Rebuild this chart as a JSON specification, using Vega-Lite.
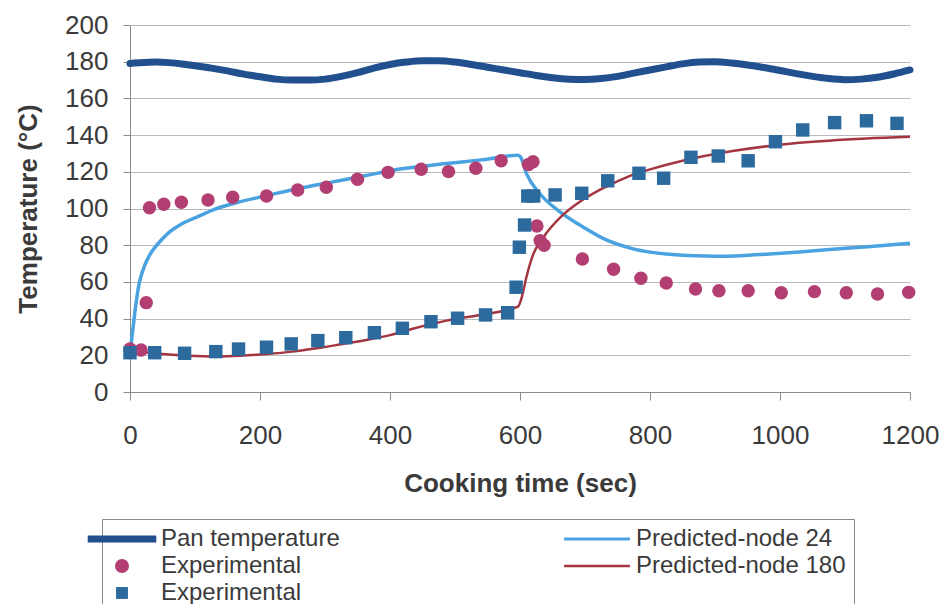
{
  "$schema": "https://vega.github.io/schema/vega-lite/v6.json",
  "autosize": {"type": "none"},
  "width": 780,
  "height": 367,
  "padding": {"left": 130, "top": 25, "right": 36, "bottom": 212},
  "background": "white",
  "config": {
    "font": "Liberation Sans",
    "view": {"stroke": null}
  },
  "data": {
    "values": [
      {"series": "Pan temperature", "t": 0, "T": 179},
      {"series": "Pan temperature", "t": 20, "T": 179.5},
      {"series": "Pan temperature", "t": 40, "T": 179.8},
      {"series": "Pan temperature", "t": 60, "T": 179.5},
      {"series": "Pan temperature", "t": 80, "T": 178.8},
      {"series": "Pan temperature", "t": 100, "T": 177.8},
      {"series": "Pan temperature", "t": 125, "T": 176.5},
      {"series": "Pan temperature", "t": 150, "T": 175},
      {"series": "Pan temperature", "t": 175, "T": 173.2},
      {"series": "Pan temperature", "t": 200, "T": 171.8},
      {"series": "Pan temperature", "t": 225, "T": 170.5},
      {"series": "Pan temperature", "t": 250, "T": 170},
      {"series": "Pan temperature", "t": 275, "T": 170},
      {"series": "Pan temperature", "t": 300, "T": 170.5},
      {"series": "Pan temperature", "t": 325, "T": 172},
      {"series": "Pan temperature", "t": 350, "T": 174},
      {"series": "Pan temperature", "t": 375, "T": 176.5},
      {"series": "Pan temperature", "t": 400, "T": 178.5},
      {"series": "Pan temperature", "t": 425, "T": 179.8},
      {"series": "Pan temperature", "t": 450, "T": 180.5},
      {"series": "Pan temperature", "t": 475, "T": 180.5},
      {"series": "Pan temperature", "t": 500, "T": 179.8},
      {"series": "Pan temperature", "t": 525, "T": 178.5},
      {"series": "Pan temperature", "t": 550, "T": 177},
      {"series": "Pan temperature", "t": 575, "T": 175.5},
      {"series": "Pan temperature", "t": 600, "T": 174},
      {"series": "Pan temperature", "t": 625, "T": 172.5},
      {"series": "Pan temperature", "t": 650, "T": 171.3},
      {"series": "Pan temperature", "t": 675, "T": 170.5},
      {"series": "Pan temperature", "t": 700, "T": 170.3},
      {"series": "Pan temperature", "t": 725, "T": 170.8},
      {"series": "Pan temperature", "t": 750, "T": 172},
      {"series": "Pan temperature", "t": 775, "T": 173.8},
      {"series": "Pan temperature", "t": 800, "T": 175.5},
      {"series": "Pan temperature", "t": 825, "T": 177.2},
      {"series": "Pan temperature", "t": 850, "T": 178.8},
      {"series": "Pan temperature", "t": 875, "T": 179.8},
      {"series": "Pan temperature", "t": 900, "T": 180},
      {"series": "Pan temperature", "t": 925, "T": 179.3},
      {"series": "Pan temperature", "t": 950, "T": 178.2},
      {"series": "Pan temperature", "t": 975, "T": 176.8},
      {"series": "Pan temperature", "t": 1000, "T": 175.2},
      {"series": "Pan temperature", "t": 1025, "T": 173.5},
      {"series": "Pan temperature", "t": 1050, "T": 172},
      {"series": "Pan temperature", "t": 1075, "T": 170.8},
      {"series": "Pan temperature", "t": 1100, "T": 170.2},
      {"series": "Pan temperature", "t": 1125, "T": 170.5},
      {"series": "Pan temperature", "t": 1150, "T": 171.5},
      {"series": "Pan temperature", "t": 1175, "T": 173.3},
      {"series": "Pan temperature", "t": 1200, "T": 175.5},

      {"series": "Predicted-node 24", "t": 0, "T": 22},
      {"series": "Predicted-node 24", "t": 2, "T": 27},
      {"series": "Predicted-node 24", "t": 4, "T": 33},
      {"series": "Predicted-node 24", "t": 6, "T": 39},
      {"series": "Predicted-node 24", "t": 8, "T": 45},
      {"series": "Predicted-node 24", "t": 10, "T": 50},
      {"series": "Predicted-node 24", "t": 12, "T": 55},
      {"series": "Predicted-node 24", "t": 15, "T": 60.5},
      {"series": "Predicted-node 24", "t": 20, "T": 66.5},
      {"series": "Predicted-node 24", "t": 25, "T": 71},
      {"series": "Predicted-node 24", "t": 30, "T": 74.5},
      {"series": "Predicted-node 24", "t": 40, "T": 79.5},
      {"series": "Predicted-node 24", "t": 50, "T": 83.5},
      {"series": "Predicted-node 24", "t": 60, "T": 87},
      {"series": "Predicted-node 24", "t": 80, "T": 91.7},
      {"series": "Predicted-node 24", "t": 107, "T": 96},
      {"series": "Predicted-node 24", "t": 130, "T": 99.5},
      {"series": "Predicted-node 24", "t": 158, "T": 102.6},
      {"series": "Predicted-node 24", "t": 210, "T": 107},
      {"series": "Predicted-node 24", "t": 261, "T": 111},
      {"series": "Predicted-node 24", "t": 312, "T": 114.5},
      {"series": "Predicted-node 24", "t": 363, "T": 118},
      {"series": "Predicted-node 24", "t": 415, "T": 121.5},
      {"series": "Predicted-node 24", "t": 487, "T": 124.5},
      {"series": "Predicted-node 24", "t": 540, "T": 126.5},
      {"series": "Predicted-node 24", "t": 597, "T": 129},
      {"series": "Predicted-node 24", "t": 601, "T": 128},
      {"series": "Predicted-node 24", "t": 610, "T": 119},
      {"series": "Predicted-node 24", "t": 630, "T": 108.3},
      {"series": "Predicted-node 24", "t": 661, "T": 98.3},
      {"series": "Predicted-node 24", "t": 692, "T": 91},
      {"series": "Predicted-node 24", "t": 732, "T": 83},
      {"series": "Predicted-node 24", "t": 774, "T": 78},
      {"series": "Predicted-node 24", "t": 825, "T": 75.2},
      {"series": "Predicted-node 24", "t": 870, "T": 74.2},
      {"series": "Predicted-node 24", "t": 902, "T": 74},
      {"series": "Predicted-node 24", "t": 940, "T": 74.3},
      {"series": "Predicted-node 24", "t": 979, "T": 75.1},
      {"series": "Predicted-node 24", "t": 1030, "T": 76.3},
      {"series": "Predicted-node 24", "t": 1081, "T": 77.8},
      {"series": "Predicted-node 24", "t": 1140, "T": 79.3},
      {"series": "Predicted-node 24", "t": 1200, "T": 81},

      {"series": "Predicted-node 180", "t": 0, "T": 22.5},
      {"series": "Predicted-node 180", "t": 40, "T": 21},
      {"series": "Predicted-node 180", "t": 90, "T": 19.8},
      {"series": "Predicted-node 180", "t": 133, "T": 19.4},
      {"series": "Predicted-node 180", "t": 170, "T": 19.8},
      {"series": "Predicted-node 180", "t": 210, "T": 20.7},
      {"series": "Predicted-node 180", "t": 250, "T": 22},
      {"series": "Predicted-node 180", "t": 287, "T": 23.8},
      {"series": "Predicted-node 180", "t": 325, "T": 26},
      {"series": "Predicted-node 180", "t": 363, "T": 28.3},
      {"series": "Predicted-node 180", "t": 400, "T": 31},
      {"series": "Predicted-node 180", "t": 435, "T": 34.5},
      {"series": "Predicted-node 180", "t": 487, "T": 38.9},
      {"series": "Predicted-node 180", "t": 538, "T": 42},
      {"series": "Predicted-node 180", "t": 597, "T": 46.5},
      {"series": "Predicted-node 180", "t": 603, "T": 52},
      {"series": "Predicted-node 180", "t": 610, "T": 62.8},
      {"series": "Predicted-node 180", "t": 620, "T": 74.7},
      {"series": "Predicted-node 180", "t": 635, "T": 83.8},
      {"series": "Predicted-node 180", "t": 666, "T": 96.5},
      {"series": "Predicted-node 180", "t": 692, "T": 103.7},
      {"series": "Predicted-node 180", "t": 722, "T": 110},
      {"series": "Predicted-node 180", "t": 743, "T": 113.7},
      {"series": "Predicted-node 180", "t": 774, "T": 118.5},
      {"series": "Predicted-node 180", "t": 800, "T": 121.3},
      {"series": "Predicted-node 180", "t": 850, "T": 126},
      {"series": "Predicted-node 180", "t": 927, "T": 131.3},
      {"series": "Predicted-node 180", "t": 1030, "T": 135.8},
      {"series": "Predicted-node 180", "t": 1133, "T": 138.2},
      {"series": "Predicted-node 180", "t": 1200, "T": 139.1},

      {"series": "Experimental (node 24)", "t": 0, "T": 23.4},
      {"series": "Experimental (node 24)", "t": 17, "T": 22.9},
      {"series": "Experimental (node 24)", "t": 25, "T": 48.7},
      {"series": "Experimental (node 24)", "t": 30, "T": 100.4},
      {"series": "Experimental (node 24)", "t": 52, "T": 102.3},
      {"series": "Experimental (node 24)", "t": 79, "T": 103.4},
      {"series": "Experimental (node 24)", "t": 120, "T": 104.6},
      {"series": "Experimental (node 24)", "t": 158, "T": 106.1},
      {"series": "Experimental (node 24)", "t": 210, "T": 106.8},
      {"series": "Experimental (node 24)", "t": 258, "T": 110.1},
      {"series": "Experimental (node 24)", "t": 302, "T": 111.6},
      {"series": "Experimental (node 24)", "t": 350, "T": 115.9},
      {"series": "Experimental (node 24)", "t": 397, "T": 119.7},
      {"series": "Experimental (node 24)", "t": 448, "T": 121.4},
      {"series": "Experimental (node 24)", "t": 490, "T": 120.1},
      {"series": "Experimental (node 24)", "t": 532, "T": 121.9},
      {"series": "Experimental (node 24)", "t": 571, "T": 126},
      {"series": "Experimental (node 24)", "t": 613, "T": 124},
      {"series": "Experimental (node 24)", "t": 620, "T": 125.5},
      {"series": "Experimental (node 24)", "t": 626, "T": 90.5},
      {"series": "Experimental (node 24)", "t": 631, "T": 82.5},
      {"series": "Experimental (node 24)", "t": 637, "T": 80},
      {"series": "Experimental (node 24)", "t": 696, "T": 72.5},
      {"series": "Experimental (node 24)", "t": 744, "T": 66.9},
      {"series": "Experimental (node 24)", "t": 786, "T": 62},
      {"series": "Experimental (node 24)", "t": 825, "T": 59.4},
      {"series": "Experimental (node 24)", "t": 870, "T": 56.1},
      {"series": "Experimental (node 24)", "t": 906, "T": 55.2},
      {"series": "Experimental (node 24)", "t": 951, "T": 55.2},
      {"series": "Experimental (node 24)", "t": 1002, "T": 54.1},
      {"series": "Experimental (node 24)", "t": 1053, "T": 54.7},
      {"series": "Experimental (node 24)", "t": 1102, "T": 54.1},
      {"series": "Experimental (node 24)", "t": 1150, "T": 53.4},
      {"series": "Experimental (node 24)", "t": 1198, "T": 54.3},

      {"series": "Experimental (node 180)", "t": 0, "T": 21.4},
      {"series": "Experimental (node 180)", "t": 38, "T": 21.4},
      {"series": "Experimental (node 180)", "t": 84, "T": 21.1},
      {"series": "Experimental (node 180)", "t": 132, "T": 22},
      {"series": "Experimental (node 180)", "t": 167, "T": 23.4},
      {"series": "Experimental (node 180)", "t": 210, "T": 24.4},
      {"series": "Experimental (node 180)", "t": 248, "T": 26.2},
      {"series": "Experimental (node 180)", "t": 289, "T": 28},
      {"series": "Experimental (node 180)", "t": 332, "T": 29.6},
      {"series": "Experimental (node 180)", "t": 376, "T": 32.3},
      {"series": "Experimental (node 180)", "t": 419, "T": 34.7},
      {"series": "Experimental (node 180)", "t": 463, "T": 38.3},
      {"series": "Experimental (node 180)", "t": 504, "T": 40.2},
      {"series": "Experimental (node 180)", "t": 547, "T": 42},
      {"series": "Experimental (node 180)", "t": 581, "T": 43.2},
      {"series": "Experimental (node 180)", "t": 594, "T": 57.1},
      {"series": "Experimental (node 180)", "t": 599, "T": 78.9},
      {"series": "Experimental (node 180)", "t": 607, "T": 91},
      {"series": "Experimental (node 180)", "t": 612, "T": 106.8},
      {"series": "Experimental (node 180)", "t": 621, "T": 106.8},
      {"series": "Experimental (node 180)", "t": 654, "T": 107.4},
      {"series": "Experimental (node 180)", "t": 695, "T": 108.3},
      {"series": "Experimental (node 180)", "t": 735, "T": 115.1},
      {"series": "Experimental (node 180)", "t": 783, "T": 119.2},
      {"series": "Experimental (node 180)", "t": 821, "T": 116.5},
      {"series": "Experimental (node 180)", "t": 863, "T": 127.9},
      {"series": "Experimental (node 180)", "t": 905, "T": 128.6},
      {"series": "Experimental (node 180)", "t": 951, "T": 126},
      {"series": "Experimental (node 180)", "t": 993, "T": 136.4},
      {"series": "Experimental (node 180)", "t": 1035, "T": 142.8},
      {"series": "Experimental (node 180)", "t": 1084, "T": 146.8},
      {"series": "Experimental (node 180)", "t": 1133, "T": 147.8},
      {"series": "Experimental (node 180)", "t": 1180, "T": 146.4}
    ]
  },
  "encoding": {
    "x": {
      "field": "t", "type": "quantitative",
      "scale": {"domain": [0, 1200], "nice": false},
      "axis": {
        "title": "Cooking time (sec)",
        "values": [0, 200, 400, 600, 800, 1000, 1200],
        "format": "d",
        "grid": false,
        "tickSize": 8, "tickColor": "#8a8a8a", "domainColor": "#8a8a8a",
        "labelFontSize": 26, "labelColor": "#3a3a3a", "labelPadding": 22, "labelFlush": false,
        "titleFontSize": 26, "titleFontWeight": "bold", "titleColor": "#3a3a3a", "titlePadding": 22
      }
    },
    "y": {
      "field": "T", "type": "quantitative",
      "scale": {"domain": [0, 200], "nice": false},
      "axis": {
        "title": "Temperature (°C)",
        "values": [0, 20, 40, 60, 80, 100, 120, 140, 160, 180, 200],
        "grid": true, "gridColor": "#b8b8c0", "gridWidth": 1,
        "tickSize": 7, "tickColor": "#8a8a8a", "domainColor": "#8a8a8a",
        "labelFontSize": 26, "labelColor": "#3a3a3a", "labelPadding": 15,
        "titleFontSize": 26, "titleFontWeight": "bold", "titleColor": "#3a3a3a", "titlePadding": 23
      }
    },
    "color": {
      "field": "series", "type": "nominal",
      "scale": {
        "domain": ["Pan temperature", "Experimental (node 24)", "Experimental (node 180)", "Predicted-node 24", "Predicted-node 180"],
        "range": ["#22508f", "#b23e72", "#2c6a9e", "#4aa3e0", "#a33640"]
      },
      "legend": {
        "orient": "none",
        "legendX": -28,
        "legendY": 494,
        "columns": 2,
        "direction": "vertical",
        "title": null,
        "padding": 8,
        "strokeColor": "#8a8a8a",
        "rowPadding": 3,
        "columnPadding": 224,
        "labelFontSize": 24,
        "labelColor": "#3a3a3a",
        "labelOffset": 27,
        "labelLimit": 400,
        "symbolSize": 196,
        "symbolStrokeWidth": 0,
        "labelExpr": "indexof(datum.label, 'Experimental') === 0 ? 'Experimental' : datum.label",
        "encode": {
          "symbols": {
            "update": {
              "shape": {"signal": "datum.value === 'Pan temperature' ? 'M-4.9,-0.5H4.9V0.5H-4.9Z' : datum.value === 'Experimental (node 24)' ? 'circle' : datum.value === 'Experimental (node 180)' ? 'M-0.85,-0.85H0.85V0.85H-0.85Z' : datum.value === 'Predicted-node 24' ? 'M-4.7,-0.22H4.7V0.22H-4.7Z' : 'M-4.7,-0.17H4.7V0.17H-4.7Z'"},
              "fill": {"signal": "scale('color', datum.value)"},
              "stroke": {"value": "transparent"},
              "strokeWidth": {"value": 0},
              "opacity": {"value": 1},
              "fillOpacity": {"value": 1},
              "size": {"value": 196}
            }
          }
        }
      }
    }
  },
  "layer": [
    {
      "transform": [{"filter": {"field": "series", "equal": "Pan temperature"}}],
      "mark": {"type": "line", "strokeWidth": 7, "interpolate": "monotone", "strokeCap": "round"}
    },
    {
      "transform": [{"filter": {"field": "series", "equal": "Predicted-node 24"}}],
      "mark": {"type": "line", "strokeWidth": 3.5, "interpolate": "monotone"}
    },
    {
      "transform": [{"filter": {"field": "series", "equal": "Predicted-node 180"}}],
      "mark": {"type": "line", "strokeWidth": 2.5, "interpolate": "monotone"}
    },
    {
      "transform": [{"filter": {"field": "series", "equal": "Experimental (node 24)"}}],
      "mark": {"type": "point", "shape": "circle", "filled": true, "size": 180, "opacity": 1}
    },
    {
      "transform": [{"filter": {"field": "series", "equal": "Experimental (node 180)"}}],
      "mark": {"type": "point", "shape": "square", "filled": true, "size": 180, "opacity": 1}
    }
  ]
}
